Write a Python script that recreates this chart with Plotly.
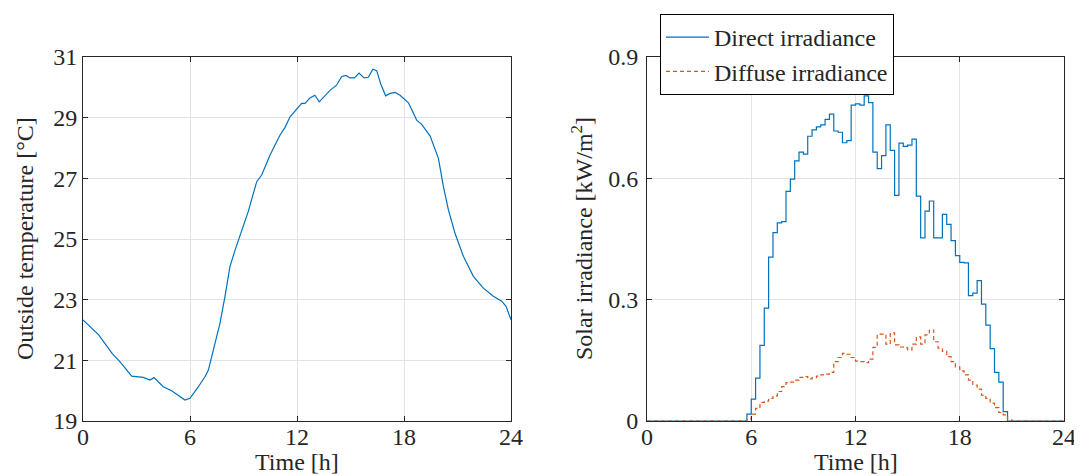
import plotly.graph_objects as go

# ---------------- data ----------------
# Outside temperature
temp_time = [0.0, 0.6, 0.88, 1.65, 2.07, 2.73, 3.38, 3.76, 3.98, 4.5, 4.97, 5.72, 6.0,
             6.47, 6.84, 7.03, 7.31, 7.68, 7.96, 8.24, 8.53, 8.99, 9.27, 9.74, 10.02,
             10.49, 11.05, 11.33, 11.61, 12.26, 12.45, 12.73, 13.0, 13.25, 13.85, 14.22,
             14.51, 14.75, 14.97, 15.22, 15.48, 15.76, 16.0, 16.25, 16.47, 16.69, 16.97,
             17.22, 17.5, 17.78, 18.25, 18.71, 18.99, 19.46, 19.93, 20.21, 20.49, 20.86,
             21.33, 21.89, 22.45, 23.01, 23.48, 23.72, 24.0]
temp_val = [22.33, 22.0, 21.84, 21.21, 20.96, 20.48, 20.44, 20.35, 20.43, 20.13, 20.0,
            19.69, 19.75, 20.13, 20.46, 20.68, 21.34, 22.22, 23.10, 24.09, 24.64, 25.41,
            25.91, 26.89, 27.11, 27.77, 28.43, 28.68, 29.03, 29.47, 29.47, 29.65, 29.74,
            29.52, 29.90, 30.07, 30.36, 30.39, 30.31, 30.31, 30.47, 30.31, 30.33, 30.60,
            30.55, 30.12, 29.72, 29.80, 29.83, 29.74, 29.49, 28.92, 28.78, 28.40, 27.66,
            26.73, 25.96, 25.19, 24.43, 23.77, 23.38, 23.11, 22.95, 22.78, 22.34]

# Solar irradiance, 15-minute steps from 0 h to 24 h (kW/m2)
solar_time = [i * 0.25 for i in range(97)]
direct_day = [0.017, 0.054, 0.106, 0.187, 0.279, 0.405, 0.466, 0.490, 0.493, 0.568,
              0.598, 0.643, 0.665, 0.660, 0.704, 0.720, 0.727, 0.732, 0.746, 0.759,
              0.717, 0.714, 0.688, 0.693, 0.781, 0.784, 0.781, 0.804, 0.787, 0.665,
              0.624, 0.656, 0.732, 0.669, 0.558, 0.687, 0.679, 0.682, 0.697, 0.556,
              0.453, 0.519, 0.544, 0.453, 0.453, 0.511, 0.486, 0.446, 0.409, 0.392,
              0.391, 0.310, 0.316, 0.347, 0.289, 0.237, 0.179, 0.120, 0.096, 0.023]
diffuse_day = [0.005, 0.017, 0.031, 0.046, 0.049, 0.056, 0.062, 0.073, 0.085, 0.095,
               0.096, 0.101, 0.108, 0.110, 0.104, 0.107, 0.111, 0.114, 0.116, 0.120,
               0.147, 0.157, 0.167, 0.165, 0.157, 0.148, 0.147, 0.144, 0.153, 0.182,
               0.215, 0.215, 0.190, 0.218, 0.188, 0.183, 0.181, 0.176, 0.190, 0.208,
               0.190, 0.213, 0.225, 0.196, 0.180, 0.172, 0.159, 0.147, 0.134, 0.124,
               0.114, 0.101, 0.089, 0.079, 0.064, 0.056, 0.044, 0.033, 0.021, 0.015,
               0.003]
direct = [0.0] * 23 + direct_day + [0.0] * (97 - 23 - len(direct_day))
diffuse = [0.0] * 23 + diffuse_day + [0.0] * (97 - 23 - len(diffuse_day))

x_ticks = [0, 6, 12, 18, 24]
temp_ticks = [19, 21, 23, 25, 27, 29, 31]
solar_ticks = [0, 0.3, 0.6, 0.9]
solar_ticktext = ["0", "0.3", "0.6", "0.9"]

# ---------------- figure ----------------
# the page body has an 8 px margin, so the figure is sized to fill the rest
OFF = 8
W, H = 1082 - OFF, 476 - OFF
FONT = "Liberation Serif, Times New Roman, serif"
TXT = "#262626"
BLUE = "#0072BD"
ORANGE = "#D95319"
FS = 24


def px(x):
    return (x - OFF) / W


def py(y):
    return (H - (y - OFF)) / H


fig = go.Figure()
fig.add_trace(go.Scatter(x=temp_time, y=temp_val, mode="lines",
                         line=dict(color=BLUE, width=1.2), showlegend=False,
                         xaxis="x", yaxis="y"))
fig.add_trace(go.Scatter(x=solar_time, y=direct, mode="lines", name="Direct irradiance",
                         line=dict(color=BLUE, width=1.2, shape="hv"),
                         xaxis="x2", yaxis="y2"))
fig.add_trace(go.Scatter(x=solar_time, y=diffuse, mode="lines", name="Diffuse irradiance",
                         line=dict(color=ORANGE, width=1.2, shape="hv", dash="4px,3px"),
                         xaxis="x2", yaxis="y2"))

axis_style = dict(showline=True, mirror="ticks", linecolor=TXT, linewidth=1,
                  ticks="inside", ticklen=5, tickcolor=TXT, tickwidth=1,
                  showgrid=True, gridcolor="#e3e3e3", gridwidth=1, zeroline=False,
                  automargin=False,
                  tickfont=dict(family=FONT, size=FS, color=TXT))

ydom = [py(421), py(57)]
fig.update_layout(
    width=W, height=H,
    margin=dict(l=0, r=0, t=0, b=0, autoexpand=False),
    paper_bgcolor="white", plot_bgcolor="white",
    font=dict(family=FONT, size=FS, color=TXT),
    xaxis=dict(domain=[px(83), px(511)], range=[0, 24], tickvals=x_ticks,
               anchor="y", ticklabelstandoff=-6, **axis_style),
    yaxis=dict(domain=ydom, range=[19, 31], tickvals=temp_ticks,
               anchor="x", **axis_style),
    xaxis2=dict(domain=[px(647), px(1064)], range=[0, 24], tickvals=x_ticks,
                anchor="y2", ticklabelstandoff=-6, **axis_style),
    yaxis2=dict(domain=ydom, range=[0, 0.9], tickvals=solar_ticks,
                ticktext=solar_ticktext, anchor="x2", ticklabelstandoff=3, **axis_style),
    legend=dict(x=px(660), y=py(14), xanchor="left", yanchor="top",
                bgcolor="white", bordercolor="black", borderwidth=1,
                font=dict(family=FONT, size=24, color=TXT),
                itemwidth=43, tracegroupgap=0),
    showlegend=True,
)

ann_font = dict(family=FONT, size=FS, color=TXT)
fig.add_annotation(text="Time [h]", x=px(297), y=py(462), xref="paper", yref="paper",
                   showarrow=False, xanchor="center", yanchor="middle", font=ann_font)
fig.add_annotation(text="Time [h]", x=px(855.5), y=py(462), xref="paper", yref="paper",
                   showarrow=False, xanchor="center", yanchor="middle", font=ann_font)
fig.add_annotation(text="Outside temperature [°C]", x=px(25), y=py(239),
                   xref="paper", yref="paper", showarrow=False, textangle=-90,
                   xanchor="center", yanchor="middle", font=ann_font)
fig.add_annotation(text="Solar irradiance [kW/m<sup>2</sup>]", x=px(582), y=py(239),
                   xref="paper", yref="paper", showarrow=False, textangle=-90,
                   xanchor="center", yanchor="middle", font=ann_font)

fig.write_html("out.html")
